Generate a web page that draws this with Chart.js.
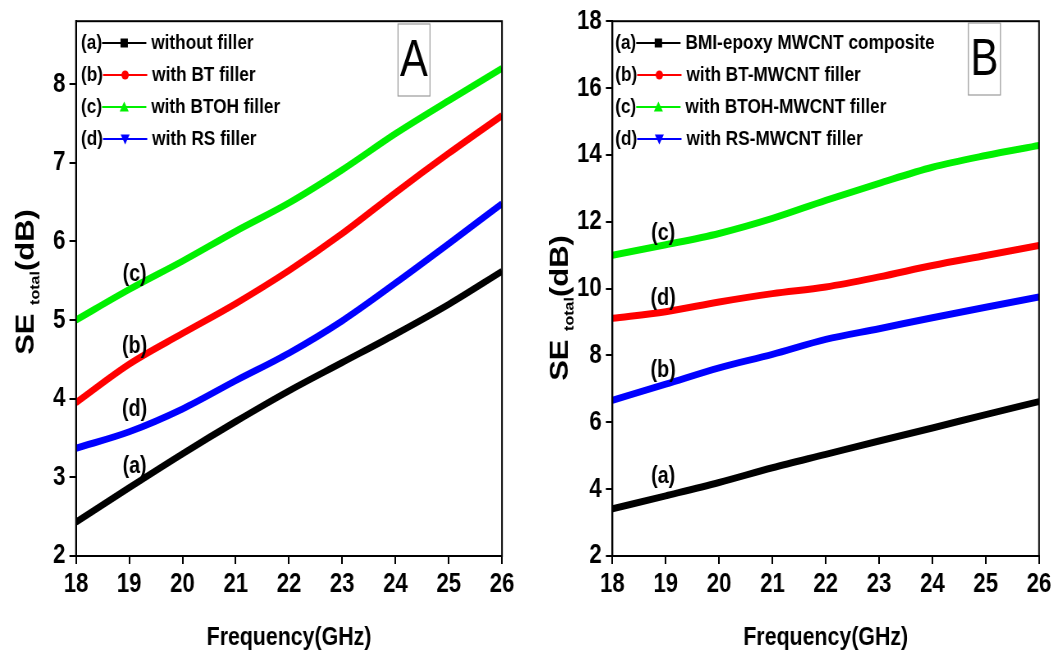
<!DOCTYPE html>
<html lang="en">
<head>
  <meta charset="UTF-8" />
  <title>SE total vs Frequency</title>
  <script src="https://cdn.jsdelivr.net/npm/chart.js"></script>
  <style>
    body { margin: 0; background: #fff; overflow: hidden; }
    .panel { position: absolute; top: 0; height: 655px; transform-origin: 0 0; }
  </style>
</head>
<body>
  <div class="panel" id="panelA"><canvas id="chartA"></canvas></div>
  <div class="panel" id="panelB"><canvas id="chartB"></canvas></div>

<script>
  // x values (GHz) shared by both panels
  const freq = [18, 19, 20, 21, 22, 23, 24, 25, 26];

  // Panel A
  const namesA = ['without filler', 'with BT filler', 'with BTOH filler', 'with RS filler'];
  const aWithout = [2.43, 2.87, 3.30, 3.71, 4.10, 4.46, 4.82, 5.20, 5.62];
  const aBT      = [3.95, 4.44, 4.83, 5.21, 5.63, 6.10, 6.62, 7.12, 7.60];
  const aBTOH    = [5.00, 5.39, 5.75, 6.13, 6.49, 6.91, 7.37, 7.79, 8.20];
  const aRS      = [3.37, 3.58, 3.87, 4.23, 4.58, 4.99, 5.47, 5.97, 6.48];
  const yTicksA  = [2, 3, 4, 5, 6, 7, 8];

  // Panel B
  const namesB = ['BMI-epoxy MWCNT composite', 'with BT-MWCNT filler', 'with BTOH-MWCNT filler', 'with RS-MWCNT filler'];
  const bBase  = [3.41, 3.80, 4.20, 4.64, 5.04, 5.44, 5.83, 6.23, 6.62];
  const bBT    = [9.11, 9.31, 9.60, 9.85, 10.05, 10.35, 10.69, 10.99, 11.29];
  const bBTOH  = [11.00, 11.31, 11.65, 12.10, 12.64, 13.15, 13.63, 13.98, 14.28];
  const bRS    = [6.66, 7.14, 7.63, 8.03, 8.48, 8.80, 9.13, 9.44, 9.75];
  const yTicksB = [2, 4, 6, 8, 10, 12, 14, 16, 18];

  const xTicks = [18, 19, 20, 21, 22, 23, 24, 25, 26];
  const tags = ['(a)', '(b)', '(c)', '(d)'];

  // curve labels written next to the lines, in data units
  const notesA = [['(c)', 19.1, 5.58], ['(b)', 19.1, 4.67], ['(d)', 19.1, 3.87], ['(a)', 19.1, 3.14]];
  const notesB = [['(c)', 18.95, 11.65], ['(d)', 18.95, 9.71], ['(b)', 18.95, 7.54], ['(a)', 18.95, 4.38]];

  const colors = ['#000000', '#ff0000', '#00f000', '#0000ff'];
  const markers = ['rect', 'circle', 'triangle', 'triangleDown'];
  const FONT = '"Liberation Sans", Arial, sans-serif';

  // the figure is squeezed sideways, like the source image
  const SX = 0.82;
  function place(id, left, width) {
    const el = document.getElementById(id);
    el.style.left = left + 'px';
    el.style.width = (width / SX) + 'px';
    el.style.transform = 'scaleX(' + SX + ')';
  }
  place('panelA', 0, 530);
  place('panelB', 530, 531);
  const ix = v => v / SX;   // screen px -> canvas px (horizontal)

  function drawMarker(ctx, style, x, y, r) {
    ctx.beginPath();
    if (style === 'rect') {
      ctx.rect(x - r, y - r, 2 * r, 2 * r);
    } else if (style === 'circle') {
      ctx.arc(x, y, r, 0, Math.PI * 2);
    } else if (style === 'triangle') {
      ctx.moveTo(x, y - r - 1); ctx.lineTo(x + r + 1, y + r); ctx.lineTo(x - r - 1, y + r);
    } else {
      ctx.moveTo(x, y + r + 1); ctx.lineTo(x + r + 1, y - r); ctx.lineTo(x - r - 1, y - r);
    }
    ctx.closePath();
    ctx.fill();
  }

  // frame, y title with subscript, legend, panel letter and curve labels
  const decor = {
    id: 'decor',
    afterDraw(chart, args, o) {
      const ctx = chart.ctx, area = chart.chartArea;
      const xs = chart.scales.x, ys = chart.scales.y;
      ctx.save();
      ctx.strokeStyle = '#000';
      ctx.lineWidth = 2;
      ctx.strokeRect(area.left, area.top, area.right - area.left, area.bottom - area.top);

      // y axis title: SE total (dB)
      ctx.save();
      ctx.translate(ix(o.titleX), o.titleY);
      ctx.rotate(-Math.PI / 2);
      ctx.fillStyle = '#000';
      ctx.textBaseline = 'middle';
      const big = 'bold 31px ' + FONT, small = 'bold 16px ' + FONT;
      ctx.font = big; const w1 = ctx.measureText('SE ').width; const w3 = ctx.measureText('(dB)').width;
      ctx.font = small; const w2 = ctx.measureText('total').width;
      let px = -(w1 + w2 + w3) / 2;
      ctx.font = big; ctx.fillText('SE ', px, 0); px += w1;
      ctx.font = small; ctx.fillText('total', px, 11); px += w2;
      ctx.font = big; ctx.fillText('(dB)', px, 0);
      ctx.restore();

      // legend
      ctx.textBaseline = 'middle';
      ctx.font = 'bold 21px ' + FONT;
      chart.data.datasets.forEach((ds, i) => {
        const y = o.legendTop + i * 32;
        ctx.fillStyle = '#000';
        ctx.fillText(tags[i], ix(o.legendX), y);
        const lx = ix(o.legendX) + ctx.measureText(tags[i]).width;
        ctx.strokeStyle = ds.borderColor;
        ctx.lineWidth = 2;
        ctx.beginPath(); ctx.moveTo(lx, y); ctx.lineTo(lx + 54, y); ctx.stroke();
        ctx.fillStyle = ds.borderColor;
        drawMarker(ctx, markers[i], lx + 27, y, 4.5);
        ctx.fillStyle = '#000';
        ctx.fillText(ds.label, lx + 60, y);
      });

      // panel letter box
      ctx.strokeStyle = '#999';
      ctx.lineWidth = 1.2;
      ctx.strokeRect(ix(o.box[0]), o.box[1], ix(o.box[2]), o.box[3]);
      ctx.fillStyle = '#000';
      ctx.font = '51px ' + FONT;
      ctx.textAlign = 'center';
      ctx.fillText(o.letter, ix(o.box[0] + o.box[2] / 2), o.box[1] + o.box[3] / 2 + 2);

      // curve labels
      ctx.font = 'bold 24px ' + FONT;
      o.notes.forEach(n => {
        ctx.fillText(n[0], xs.getPixelForValue(n[1]), ys.getPixelForValue(n[2]));
      });
      ctx.restore();
    }
  };

  function makeDatasets(names, series) {
    return series.map((vals, i) => ({
      label: names[i],
      data: freq.map((f, k) => ({ x: f, y: vals[k] })),
      borderColor: colors[i],
      backgroundColor: colors[i],
      borderWidth: 7,
      pointRadius: 0,
      cubicInterpolationMode: 'monotone',
      fill: false
    }));
  }

  function axisStyle() {
    return {
      grid: { drawOnChartArea: false, drawTicks: true, tickLength: 8, color: '#000', lineWidth: 2 },
      border: { display: true, color: '#000', width: 2 }
    };
  }

  function makeChart(id, names, series, yMax, yTicks, yWidth, padRight, dec) {
    return new Chart(document.getElementById(id), {
      type: 'line',
      data: { datasets: makeDatasets(names, series) },
      plugins: [decor],
      options: {
        responsive: true,
        maintainAspectRatio: false,
        animation: false,
        layout: { padding: { top: 19, right: ix(padRight), left: 0, bottom: 0 } },
        plugins: { legend: { display: false }, tooltip: { enabled: false }, decor: dec },
        scales: {
          x: Object.assign(axisStyle(), {
            type: 'linear', min: 18, max: 26,
            afterBuildTicks: s => { s.ticks = xTicks.map(v => ({ value: v })); },
            afterFit: s => { s.height = 99; },
            ticks: { color: '#000', font: { family: FONT, size: 27, weight: 'bold' }, padding: 4, maxRotation: 0 },
            title: { display: true, text: 'Frequency(GHz)', color: '#000',
                     font: { family: FONT, size: 26, weight: 'bold' }, padding: { top: 0, bottom: 2 } }
          }),
          y: Object.assign(axisStyle(), {
            type: 'linear', min: 2, max: yMax,
            afterBuildTicks: s => { s.ticks = yTicks.map(v => ({ value: v })); },
            afterFit: s => { s.width = ix(yWidth); },
            ticks: { color: '#000', font: { family: FONT, size: 27, weight: 'bold' }, padding: 5 }
          })
        }
      }
    });
  }

  makeChart('chartA', namesA, [aWithout, aBT, aBTOH, aRS], 8.8, yTicksA, 76, 28, {
    titleX: 27, titleY: 282, legendX: 81, legendTop: 43,
    box: [398, 24, 32, 72], letter: 'A', notes: notesA
  });

  makeChart('chartB', namesB, [bBase, bBT, bBTOH, bRS], 18, yTicksB, 82.3, 22.7, {
    titleX: 31, titleY: 308, legendX: 85, legendTop: 43,
    box: [437.7, 23, 32, 72], letter: 'B', notes: notesB
  });
</script>
</body>
</html>
